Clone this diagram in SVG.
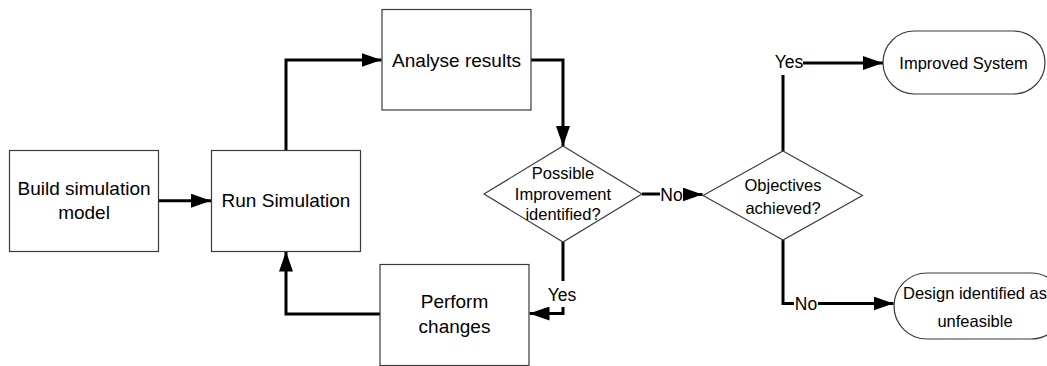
<svg xmlns="http://www.w3.org/2000/svg" width="1047" height="366" viewBox="0 0 1047 366">
<defs>
<style>
.box{fill:#fff;stroke:#3a3a3a;stroke-width:1.2}
.t{font-family:"Liberation Sans",Arial,sans-serif;fill:#000;text-anchor:middle;dominant-baseline:central}
.big{font-size:19px}
.sm{font-size:16.5px}
.lbl{font-size:17.5px}
.c{fill:none;stroke:#000;stroke-width:3}
</style>
<marker id="ah" markerUnits="userSpaceOnUse" markerWidth="20" markerHeight="14" refX="20" refY="7" orient="auto">
<path d="M0,0 L20,7 L0,14 Z" fill="#000"/>
</marker>
</defs>
<rect width="1047" height="366" fill="#fff"/>
<g id="connectors">
<path class="c" d="M158.5,200.7 H211" marker-end="url(#ah)"/>
<path class="c" d="M286,150.5 V60 H381.5" marker-end="url(#ah)"/>
<path class="c" d="M531,60 H563 V146" marker-end="url(#ah)"/>
<path class="c" d="M380,314 H286 V251.5" marker-end="url(#ah)"/>
<path class="c" d="M642,194 H660"/>
<path class="c" d="M683,194.5 H702.5" marker-end="url(#ah)"/>
<path class="c" d="M563,242 V281"/>
<path class="c" d="M563,307 V313.5 H529.5" marker-end="url(#ah)"/>
<path class="c" d="M783,151 V75"/>
<path class="c" d="M803,63 H883" marker-end="url(#ah)"/>
<path class="c" d="M783,240 V303.5 H794"/>
<path class="c" d="M818,303.5 H893.5" marker-end="url(#ah)"/>
<text class="t lbl" x="671.5" y="194.5">No</text>
<text class="t lbl" x="562" y="295">Yes</text>
<text class="t lbl" x="789" y="62">Yes</text>
<text class="t lbl" x="806" y="303.5">No</text>
</g>
<g id="build">
<rect class="box" x="9.5" y="150.5" width="149" height="101"/>
<text class="t big" x="84" y="188.5">Build simulation</text>
<text class="t big" x="84" y="212.5">model</text>
</g>
<g id="run">
<rect class="box" x="211.5" y="150.5" width="149" height="101"/>
<text class="t big" x="286" y="200.7">Run Simulation</text>
</g>
<g id="analyse">
<rect class="box" x="382" y="9.5" width="149" height="100.5"/>
<text class="t big" x="456.5" y="60">Analyse results</text>
</g>
<g id="perform">
<rect class="box" x="380" y="264.5" width="149" height="101"/>
<text class="t big" x="454.5" y="301.5">Perform</text>
<text class="t big" x="454.5" y="326.5">changes</text>
</g>
<g id="possible">
<polygon class="box" points="563,146 642,194 563,242 484,194"/>
<text class="t sm" x="563" y="172.7">Possible</text>
<text class="t sm" x="563" y="193.5">Improvement</text>
<text class="t sm" x="563" y="214.3">identified?</text>
</g>
<g id="objectives">
<polygon class="box" points="783,151 862.5,195.5 783,240 703,195.5"/>
<text class="t sm" x="783" y="185">Objectives</text>
<text class="t sm" x="783" y="208.3">achieved?</text>
</g>
<g id="improved">
<rect class="box" x="883" y="31" width="162" height="63" rx="31.5" ry="31.5"/>
<text class="t sm" x="963.5" y="62.5">Improved System</text>
</g>
<g id="unfeasible">
<rect class="box" x="894" y="273" width="170" height="66" rx="33" ry="33"/>
<text class="t sm" x="975" y="293">Design identified as</text>
<text class="t sm" x="975" y="321">unfeasible</text>
</g>
</svg>
